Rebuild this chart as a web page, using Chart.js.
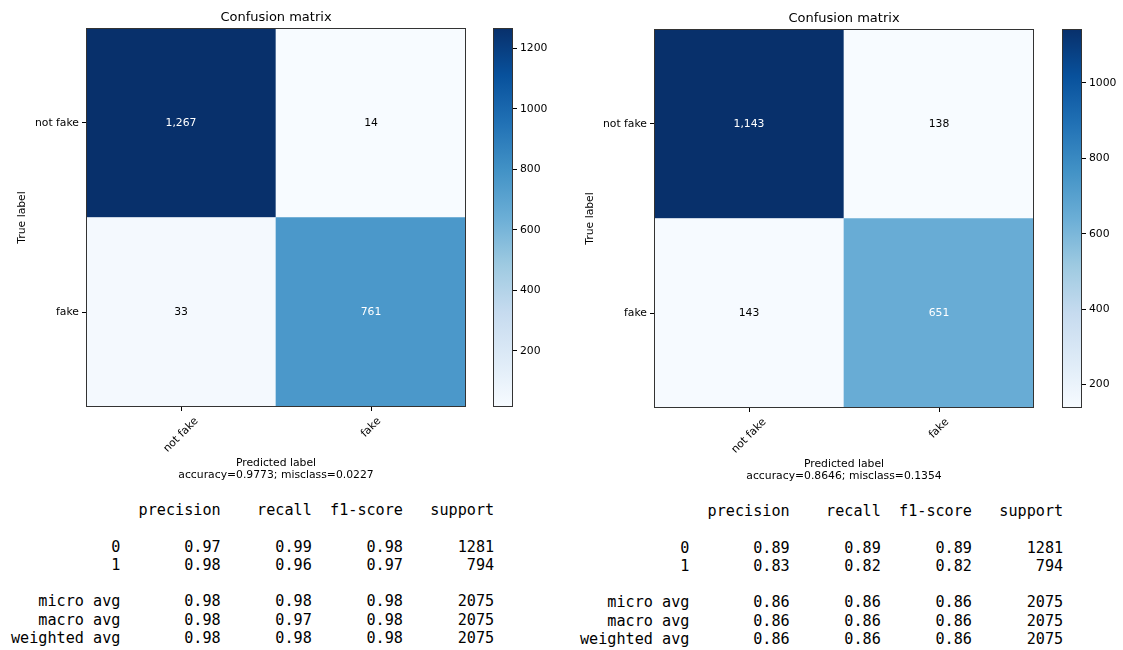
<!DOCTYPE html>
<html>
<head>
<meta charset="utf-8">
<script src="https://cdn.jsdelivr.net/npm/chart.js@4"></script>
<style>
    body { margin: 0; background: #fff; width: 1123px; height: 650px; position: relative; overflow: hidden; }
    canvas { position: absolute; }
    pre.report {
        position: absolute; margin: 0;
        font-family: 'DejaVu Sans Mono', monospace; font-size: 15.15px; line-height: 18.3px;
        color: #000;
    }
</style>
</head>
<body>
<canvas id="cmLeft" width="480" height="490" style="left:0;top:0"></canvas>
<canvas id="cbLeft" width="80" height="420" style="left:480px;top:0"></canvas>
<canvas id="cmRight" width="480" height="490" style="left:568px;top:1px"></canvas>
<canvas id="cbRight" width="80" height="420" style="left:1049px;top:1px"></canvas>
<pre class="report" id="reportLeft" style="left:11px;top:501px"></pre>
<pre class="report" id="reportRight" style="left:580px;top:502px"></pre>

<script>
// Classes and confusion matrices (rows = true label, cols = predicted)
const classes = ['not fake', 'fake'];
const matrixLeft = [[1267, 14], [33, 761]];
const matrixRight = [[1143, 138], [143, 651]];
const accuracyLeft = 0.9773;
const accuracyRight = 0.8646;

// Colorbar tick labels
const colorbarTicksLeft = [200, 400, 600, 800, 1000, 1200];
const colorbarTicksRight = [200, 400, 600, 800, 1000];

// Classification reports
const reportHeaders = ['precision', 'recall', 'f1-score', 'support'];
const reportRowNames = ['0', '1', 'micro avg', 'macro avg', 'weighted avg'];
const reportLeftRows = [
    [0.97, 0.99, 0.98, 1281],
    [0.98, 0.96, 0.97, 794],
    [0.98, 0.98, 0.98, 2075],
    [0.98, 0.97, 0.98, 2075],
    [0.98, 0.98, 0.98, 2075]
];
const reportRightRows = [
    [0.89, 0.89, 0.89, 1281],
    [0.83, 0.82, 0.82, 794],
    [0.86, 0.86, 0.86, 2075],
    [0.86, 0.86, 0.86, 2075],
    [0.86, 0.86, 0.86, 2075]
];

// matplotlib "Blues" colormap stops
const BLUES = ['#f7fbff', '#deebf7', '#c6dbef', '#9ecae1', '#6baed6', '#4292c6', '#2171b5', '#08519c', '#08306b'];

Chart.defaults.font.family = "'DejaVu Sans', sans-serif";
Chart.defaults.font.size = 10.8;
Chart.defaults.color = '#000';

function hexToRgb(hex) {
    const n = parseInt(hex.slice(1), 16);
    return [(n >> 16) & 255, (n >> 8) & 255, n & 255];
}

function blues(t) {
    t = Math.min(1, Math.max(0, t));
    const pos = t * (BLUES.length - 1);
    const i = Math.min(BLUES.length - 2, Math.floor(pos));
    const f = pos - i;
    const a = hexToRgb(BLUES[i]);
    const b = hexToRgb(BLUES[i + 1]);
    const c = a.map((v, k) => Math.round(v + (b[k] - v) * f));
    return `rgb(${c[0]}, ${c[1]}, ${c[2]})`;
}

// Frame round the plot area, like the matplotlib spines
const framePlugin = {
    id: 'frame',
    afterDatasetsDraw(chart) {
        const { ctx, chartArea: a } = chart;
        ctx.save();
        ctx.strokeStyle = '#333';
        ctx.lineWidth = 1;
        ctx.strokeRect(Math.round(a.left) + 0.5, Math.round(a.top) + 0.5,
            Math.round(a.right - a.left) - 1, Math.round(a.bottom - a.top) - 1);
        ctx.restore();
    }
};

function drawMatrix(canvasId, matrix, accuracy) {
    const flat = matrix.flat();
    const min = Math.min(...flat);
    const max = Math.max(...flat);
    const thresh = max / 2;
    const n = classes.length;

    // One stacked dataset per true-label row, bottom row first
    const datasets = [];
    for (let r = n - 1; r >= 0; r--) {
        datasets.push({
            label: classes[r],
            data: matrix[r].map(() => 1),
            counts: matrix[r],
            backgroundColor: matrix[r].map(v => blues((v - min) / (max - min))),
            borderWidth: 0,
            barPercentage: 1,
            categoryPercentage: 1
        });
    }

    const cellTextPlugin = {
        id: 'cellText',
        afterDatasetsDraw(chart) {
            const { ctx } = chart;
            ctx.save();
            ctx.font = "10.8px 'DejaVu Sans'";
            ctx.textAlign = 'center';
            ctx.textBaseline = 'middle';
            chart.data.datasets.forEach((ds, di) => {
                chart.getDatasetMeta(di).data.forEach((bar, i) => {
                    const v = ds.counts[i];
                    ctx.fillStyle = v > thresh ? '#fff' : '#000';
                    ctx.fillText(v.toLocaleString('en-US'), bar.x, (bar.y + bar.base) / 2);
                });
            });
            ctx.restore();
        }
    };

    // Title and rotated x tick labels (centred like matplotlib)
    const labelsPlugin = {
        id: 'labels',
        afterDraw(chart) {
            const { ctx, chartArea: a } = chart;
            const xScale = chart.scales.x;
            ctx.save();
            ctx.fillStyle = '#000';
            ctx.font = "13px 'DejaVu Sans'";
            ctx.textAlign = 'center';
            ctx.textBaseline = 'middle';
            ctx.fillText('Confusion matrix', (a.left + a.right) / 2, 18);

            ctx.font = "10.8px 'DejaVu Sans'";
            xScale.ticks.forEach((tick, i) => {
                const label = chart.data.labels[i];
                const x = xScale.getPixelForTick(i);
                const w = ctx.measureText(label).width;
                const h = 12.5;
                const boxH = (w + h) * Math.SQRT1_2;
                const cy = a.bottom + 8 + boxH / 2;
                ctx.save();
                ctx.translate(x, cy);
                ctx.rotate(-Math.PI / 4);
                ctx.fillText(label, 0, 0);
                ctx.restore();
            });
            ctx.restore();
        }
    };

    const canvas = document.getElementById(canvasId);
    return new Chart(canvas, {
        type: 'bar',
        data: { labels: classes, datasets: datasets },
        options: {
            responsive: false,
            animation: false,
            layout: { padding: { top: 28, right: 14, bottom: 0, left: 0 } },
            plugins: { legend: { display: false }, tooltip: { enabled: false } },
            scales: {
                x: {
                    stacked: true,
                    offset: true,
                    grid: { offset: false, drawOnChartArea: false, color: '#000', tickLength: 4 },
                    border: { display: false },
                    ticks: { display: false },
                    title: {
                        display: true,
                        text: ['Predicted label', `accuracy=${accuracy.toFixed(4)}; misclass=${(1 - accuracy).toFixed(4)}`],
                        font: { size: 10.8, lineHeight: 1.1 },
                        padding: { top: 0, bottom: 9 }
                    },
                    afterFit(scale) { scale.height = 83; }
                },
                y: {
                    stacked: true,
                    min: 0,
                    max: n,
                    grid: { drawOnChartArea: false, color: '#000', tickLength: 4 },
                    border: { display: false },
                    afterBuildTicks(scale) {
                        scale.ticks = classes.map((_, i) => ({ value: i + 0.5 }));
                    },
                    ticks: {
                        padding: 3,
                        callback: v => classes[n - 1 - Math.floor(v)]
                    },
                    title: {
                        display: true,
                        text: 'True label',
                        font: { size: 10.8 },
                        padding: { top: 15.5, bottom: 0 }
                    },
                    afterFit(scale) { scale.width = 86; }
                }
            }
        },
        plugins: [cellTextPlugin, labelsPlugin, framePlugin]
    });
}

function drawColorbar(canvasId, matrix, tickValues) {
    const flat = matrix.flat();
    const min = Math.min(...flat);
    const max = Math.max(...flat);

    const canvas = document.getElementById(canvasId);
    return new Chart(canvas, {
        type: 'bar',
        data: {
            labels: [''],
            datasets: [{
                data: [[min, max]],
                borderWidth: 0,
                barPercentage: 1,
                categoryPercentage: 1,
                backgroundColor(ctx) {
                    const area = ctx.chart.chartArea;
                    if (!area) return BLUES[4];
                    const g = ctx.chart.ctx.createLinearGradient(0, area.bottom, 0, area.top);
                    BLUES.forEach((c, k) => g.addColorStop(k / (BLUES.length - 1), c));
                    return g;
                }
            }]
        },
        options: {
            responsive: false,
            animation: false,
            layout: { padding: { top: 28, right: 0, bottom: 13, left: 13 } },
            plugins: { legend: { display: false }, tooltip: { enabled: false } },
            scales: {
                x: { display: false },
                y: {
                    position: 'right',
                    min: min,
                    max: max,
                    grid: { drawOnChartArea: false, color: '#000', tickLength: 4 },
                    border: { display: false },
                    afterBuildTicks(scale) {
                        scale.ticks = tickValues.map(v => ({ value: v }));
                    },
                    ticks: { padding: 3, callback: v => String(v) },
                    afterFit(scale) { scale.width = 47; }
                }
            }
        },
        plugins: [framePlugin]
    });
}

function formatReport(rows) {
    const width = Math.max(...reportRowNames.map(s => s.length));
    const lines = [];
    lines.push(' '.repeat(width) + ' ' + reportHeaders.map(h => ' ' + h.padStart(9)).join(''));
    lines.push('');
    rows.forEach((row, i) => {
        const vals = row.slice(0, 3).map(v => ' ' + v.toFixed(2).padStart(9)).join('');
        lines.push(reportRowNames[i].padStart(width) + ' ' + vals + ' ' + String(row[3]).padStart(9));
        if (i === 1) lines.push('');
    });
    return lines.join('\n');
}

drawMatrix('cmLeft', matrixLeft, accuracyLeft);
drawColorbar('cbLeft', matrixLeft, colorbarTicksLeft);
drawMatrix('cmRight', matrixRight, accuracyRight);
drawColorbar('cbRight', matrixRight, colorbarTicksRight);

document.getElementById('reportLeft').textContent = formatReport(reportLeftRows);
document.getElementById('reportRight').textContent = formatReport(reportRightRows);
</script>
</body>
</html>
